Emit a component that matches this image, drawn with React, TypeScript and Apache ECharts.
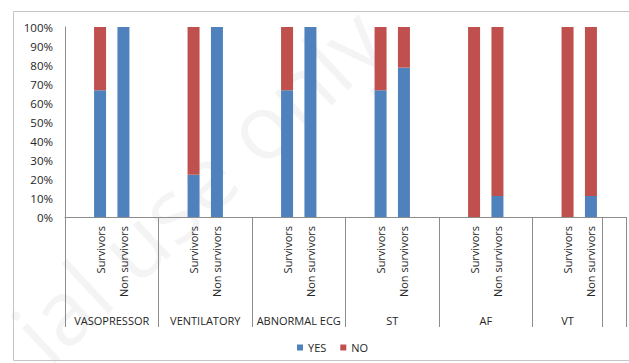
import React, { useEffect, useRef } from "react";
import * as echarts from "echarts";

// Clinical findings, each split into survivors / non survivors
const groups = ["VASOPRESSOR", "VENTILATORY", "ABNORMAL ECG", "ST", "AF", "VT", ""];
// Sub-category slots per group ("" = empty spacer slot)
const groupSlots: string[][] = [
  ["", "Survivors", "Non survivors", ""],
  ["", "Survivors", "Non survivors", ""],
  ["", "Survivors", "Non survivors", ""],
  ["", "Survivors", "Non survivors", ""],
  ["", "Survivors", "Non survivors", ""],
  ["", "Survivors", "Non survivors"],
  [""],
];
// Percentages, in order of the non-empty slots
const yesPct = [66.7, 100, 22.2, 100, 66.7, 100, 66.7, 78.6, 0, 11.1, 0, 11.1];
const noPct = [33.3, 0, 77.8, 0, 33.3, 0, 33.3, 21.4, 100, 88.9, 100, 88.9];
const yTicks = [0, 10, 20, 30, 40, 50, 60, 70, 80, 90, 100];

const FONT = "'Open Sans', 'Liberation Sans', sans-serif";
const TEXT = "#262626";
const AXIS = "#8c8c8c";

export default function App() {
  const ref = useRef<HTMLDivElement>(null);

  useEffect(() => {
    if (!ref.current) return;
    const chart = echarts.init(ref.current, undefined, { renderer: "svg" });

    // Flatten slots into category keys, labels and series values
    const keys: string[] = [];
    const labels: string[] = [];
    const yes: (number | string)[] = [];
    const no: (number | string)[] = [];
    const groupStarts: number[] = [];
    const groupCenters: { pos: number; name: string }[] = [];
    let k = 0;
    groupSlots.forEach((slots, gi) => {
      groupStarts.push(keys.length);
      groupCenters.push({ pos: keys.length + slots.length / 2, name: groups[gi] });
      slots.forEach((s, si) => {
        keys.push(`${gi}-${si}`);
        labels.push(s);
        if (s) {
          yes.push(yesPct[k]);
          no.push(noPct[k]);
          k++;
        } else {
          yes.push("-");
          no.push("-");
        }
      });
    });
    const slotCount = keys.length;

    chart.setOption({
      animation: false,
      backgroundColor: "#fff",
      textStyle: { fontFamily: FONT },
      grid: { left: 65, right: 2, top: 27, bottom: 146 },
      legend: {
        data: ["YES", "NO"],
        icon: "rect",
        itemWidth: 6,
        itemHeight: 6,
        itemGap: 14,
        left: 292,
        top: 337,
        textStyle: { fontSize: 11, color: TEXT, fontFamily: FONT },
      },
      xAxis: [
        {
          type: "category",
          data: keys,
          boundaryGap: true,
          axisLine: { show: true, lineStyle: { color: AXIS, width: 1 } },
          axisTick: {
            show: true,
            length: 110,
            interval: (i: number) => groupStarts.includes(i),
            lineStyle: { color: AXIS, width: 1 },
          },
          axisLabel: {
            interval: 0,
            rotate: 90,
            margin: 9,
            fontSize: 11,
            color: TEXT,
            fontFamily: FONT,
            formatter: (_v: string, i: number) => labels[i],
          },
        },
        {
          // Group names under the sub-category labels
          type: "value",
          min: 0,
          max: slotCount,
          interval: 0.5,
          position: "bottom",
          offset: 90,
          axisLine: { show: false },
          axisTick: { show: false },
          splitLine: { show: false },
          axisLabel: {
            margin: 8,
            fontSize: 11,
            color: TEXT,
            fontFamily: FONT,
            showMinLabel: true,
            showMaxLabel: true,
            formatter: (v: number) => {
              const g = groupCenters.find((c) => Math.abs(c.pos - v) < 1e-6);
              return g ? g.name : "";
            },
          },
        },
      ],
      yAxis: {
        type: "value",
        min: yTicks[0],
        max: yTicks[yTicks.length - 1],
        interval: 10,
        axisLine: { show: true, lineStyle: { color: AXIS, width: 1 } },
        axisTick: { show: false },
        splitLine: { show: false },
        axisLabel: {
          margin: 12,
          fontSize: 11.5,
          color: TEXT,
          fontFamily: FONT,
          formatter: "{value}%",
        },
      },
      series: [
        {
          name: "YES",
          type: "bar",
          stack: "pct",
          xAxisIndex: 0,
          barWidth: 12,
          data: yes,
          itemStyle: { color: "#4F81BD" },
        },
        {
          name: "NO",
          type: "bar",
          stack: "pct",
          xAxisIndex: 0,
          barWidth: 12,
          data: no,
          itemStyle: { color: "#C0504D" },
        },
      ],
      graphic: [
        {
          type: "rect",
          silent: true,
          z: -1,
          shape: { x: 13.5, y: 11.5, width: 640, height: 349 },
          style: { fill: "none", stroke: "#c4c4c4", lineWidth: 1 },
        },
        {
          type: "text",
          silent: true,
          z: -2,
          x: 56,
          y: 376,
          rotation: 0.75,
          style: {
            text: "ial use only",
            fontSize: 90,
            fontFamily: FONT,
            fill: "rgba(0,0,0,0.045)",
            textAlign: "left",
            textVerticalAlign: "bottom",
          },
        },
      ],
    });

    return () => chart.dispose();
  }, []);

  return (
    <div
      ref={ref}
      style={{ position: "absolute", left: 0, top: 0, width: 629, height: 363 }}
    />
  );
}
